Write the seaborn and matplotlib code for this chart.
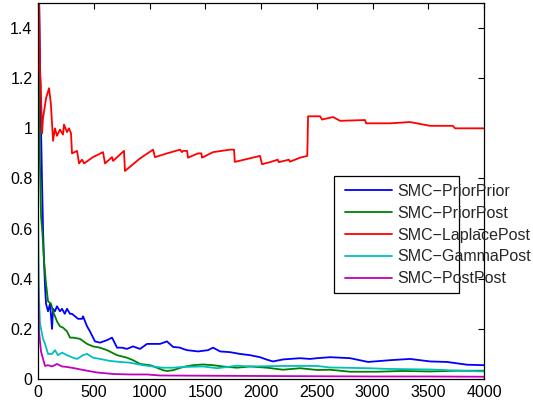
import numpy as np
import pandas as pd
import matplotlib
matplotlib.use("Agg")
import matplotlib.pyplot as plt
import seaborn as sns
from matplotlib.patches import Rectangle

# ------------------------------------------------------------
# data
# ------------------------------------------------------------
labels = ["SMC\u2212PriorPrior", "SMC\u2212PriorPost", "SMC\u2212LaplacePost",
          "SMC\u2212GammaPost", "SMC\u2212PostPost"]
colors = ["#0000ff", "#008000", "#ff0000", "#00bfbf", "#bf00bf"]

prior_prior_x = [1, 18, 27, 36, 45, 54, 63, 72, 90, 108, 117, 126, 135, 152, 170,
                 197, 215, 240, 260, 287, 305, 332, 360, 395, 404, 440, 466, 511,
                 556, 619, 664, 709, 753, 798, 852, 915, 978, 1032, 1094, 1157,
                 1211, 1274, 1301, 1337, 1435, 1525, 1570, 1633, 1722, 1812, 1902,
                 1991, 2054, 2108, 2198, 2350, 2440, 2503, 2619, 2799, 2960, 3157,
                 3337, 3516, 3668, 3848, 4000]
prior_prior_y = [1.8, 1.27, 1.0, 0.79, 0.6, 0.47, 0.37, 0.3, 0.27, 0.3, 0.25, 0.2,
                 0.28, 0.27, 0.29, 0.27, 0.28, 0.26, 0.28, 0.26, 0.26, 0.25, 0.24,
                 0.24, 0.25, 0.21, 0.19, 0.15, 0.145, 0.155, 0.165, 0.125, 0.125,
                 0.12, 0.13, 0.12, 0.14, 0.14, 0.14, 0.15, 0.128, 0.125, 0.12,
                 0.115, 0.11, 0.115, 0.125, 0.11, 0.107, 0.10, 0.095, 0.087, 0.077,
                 0.07, 0.078, 0.083, 0.08, 0.083, 0.087, 0.083, 0.068, 0.075, 0.08,
                 0.07, 0.068, 0.057, 0.055]

prior_post_x = [1, 9, 18, 27, 40, 54, 72, 90, 117, 135, 170, 197, 224, 260, 287,
                314, 377, 440, 493, 556, 619, 709, 798, 852, 915, 1005, 1067, 1121,
                1157, 1211, 1301, 1390, 1480, 1570, 1659, 1785, 1902, 2054, 2198,
                2350, 2503, 2619, 2799, 3041, 3274, 3516, 3758, 4000]
prior_post_y = [1.6, 1.15, 0.85, 0.65, 0.58, 0.47, 0.38, 0.31, 0.30, 0.27, 0.23,
                0.21, 0.205, 0.19, 0.165, 0.165, 0.16, 0.14, 0.13, 0.125, 0.115,
                0.095, 0.085, 0.075, 0.06, 0.055, 0.045, 0.035, 0.032, 0.035, 0.048,
                0.055, 0.058, 0.055, 0.05, 0.045, 0.05, 0.045, 0.037, 0.043, 0.036,
                0.037, 0.029, 0.029, 0.032, 0.03, 0.033, 0.033]

laplace_post_x = [1, 10, 18, 24, 36, 45, 72, 99, 115, 135, 152, 170, 197, 224, 233,
                  260, 278, 296, 305, 350, 368, 395, 413, 493, 583, 601, 664, 673,
                  771, 780, 915, 1032, 1049, 1157, 1274, 1290, 1301, 1337, 1345,
                  1435, 1465, 1471, 1570, 1722, 1758, 1765, 1991, 2009, 2081, 2150,
                  2160, 2250, 2260, 2350, 2415, 2422, 2530, 2547, 2646, 2709, 2933,
                  2942, 3157, 3337, 3516, 3720, 3740, 4000]
laplace_post_y = [1.9, 1.5, 1.22, 1.18, 0.98, 1.04, 1.12, 1.16, 1.1, 0.95, 1.0,
                  0.97, 0.995, 0.975, 1.015, 0.985, 1.0, 0.98, 0.9, 0.91, 0.86,
                  0.875, 0.86, 0.885, 0.905, 0.86, 0.885, 0.87, 0.91, 0.83, 0.88,
                  0.915, 0.885, 0.9, 0.915, 0.905, 0.91, 0.91, 0.883, 0.90, 0.90,
                  0.883, 0.905, 0.915, 0.915, 0.866, 0.89, 0.857, 0.865, 0.875,
                  0.865, 0.875, 0.867, 0.883, 0.89, 1.048, 1.048, 1.035, 1.045, 1.03,
                  1.033, 1.02, 1.02, 1.025, 1.01, 1.01, 1.0, 1.0]

gamma_post_x = [1, 9, 18, 27, 36, 45, 63, 90, 126, 152, 179, 215, 260, 314, 350,
                404, 440, 493, 556, 646, 736, 825, 942, 1067, 1121, 1211, 1301,
                1480, 1606, 1785, 1902, 2198, 2503, 2619, 2960, 3157, 3516, 3848,
                4000]
gamma_post_y = [0.65, 0.32, 0.22, 0.2, 0.18, 0.16, 0.14, 0.10, 0.10, 0.115, 0.095,
                0.105, 0.095, 0.085, 0.08, 0.095, 0.1, 0.085, 0.08, 0.072, 0.068,
                0.065, 0.055, 0.048, 0.045, 0.045, 0.048, 0.05, 0.043, 0.053, 0.05,
                0.052, 0.052, 0.046, 0.043, 0.04, 0.038, 0.032, 0.03]

post_post_x = [1, 9, 27, 45, 63, 90, 126, 170, 215, 260, 314, 404, 529, 673, 825,
               978, 1094, 1500, 2000, 2500, 3000, 3500, 4000]
post_post_y = [0.39, 0.19, 0.11, 0.08, 0.052, 0.055, 0.05, 0.06, 0.05, 0.048, 0.044,
               0.036, 0.026, 0.02, 0.018, 0.018, 0.014, 0.013, 0.012, 0.011, 0.01,
               0.01, 0.009]

x_ticks = [0, 500, 1000, 1500, 2000, 2500, 3000, 3500, 4000]
y_ticks = [0, 0.2, 0.4, 0.6, 0.8, 1.0, 1.2, 1.4]
y_tick_labels = ["0", "0.2", "0.4", "0.6", "0.8", "1", "1.2", "1.4"]

# ------------------------------------------------------------
# long-form table for seaborn
# ------------------------------------------------------------
series = [(prior_prior_x, prior_prior_y), (prior_post_x, prior_post_y),
          (laplace_post_x, laplace_post_y), (gamma_post_x, gamma_post_y),
          (post_post_x, post_post_y)]
frames = []
for name, (xs, ys) in zip(labels, series):
    frames.append(pd.DataFrame({"iter": xs, "value": ys, "method": name}))
df = pd.concat(frames, ignore_index=True)

# ------------------------------------------------------------
# plot
# ------------------------------------------------------------
sns.set_theme(style="white")
plt.rcParams["font.family"] = ["Liberation Sans", "DejaVu Sans"]
plt.rcParams["xtick.direction"] = "in"
plt.rcParams["ytick.direction"] = "in"

fig = plt.figure(figsize=(5.33, 4.04), dpi=100)
ax = fig.add_axes([0.0713, 0.0619, 0.8368, 0.9307])

sns.lineplot(data=df, x="iter", y="value", hue="method", hue_order=labels,
             palette=colors, estimator=None, sort=False, linewidth=1.3, ax=ax)

ax.set_xlim(0, 4000)
ax.set_ylim(0, 1.5)
ax.set_xticks(x_ticks)
ax.set_yticks(y_ticks)
ax.set_yticklabels(y_tick_labels)
ax.set_xlabel("")
ax.set_ylabel("")
ax.tick_params(axis="both", which="both", top=True, right=True, length=4,
               width=0.8, color="black", labelsize=11.5, labelcolor="black", pad=4)
for s in ax.spines.values():
    s.set_color("black")
    s.set_linewidth(0.9)

# MATLAB style legend: box drawn separately, text spills over its edge
leg = ax.legend(loc="upper left", bbox_to_anchor=(0.688, 0.519), frameon=False,
                fontsize=11.5, handlelength=2.95, handletextpad=0.33,
                labelspacing=0.43, borderpad=0, borderaxespad=0)
for line in leg.get_lines():
    line.set_linewidth(1.3)
ax.add_patch(Rectangle((0.664, 0.229), 0.280, 0.311, transform=ax.transAxes,
                       fill=False, edgecolor="black", linewidth=0.9, zorder=5))

fig.savefig("out.png", dpi=100)
